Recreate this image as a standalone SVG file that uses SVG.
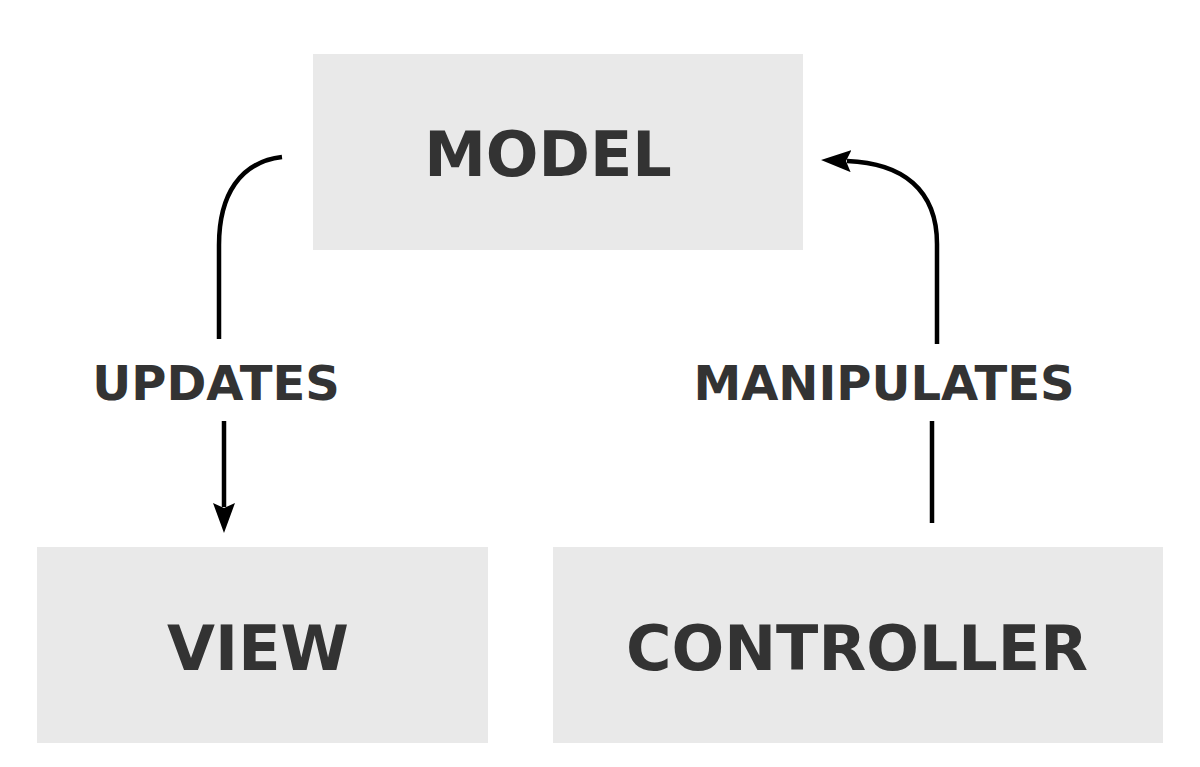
<svg xmlns="http://www.w3.org/2000/svg" width="1200" height="767" viewBox="0 0 1200 767">
<style>
.box{fill:#e9e9e9}
.t{font-family:"DejaVu Sans",sans-serif;font-weight:bold;fill:#333;text-anchor:middle}
.big{font-size:62px}
.lbl{font-size:48px}
.c{fill:none;stroke:#000;stroke-width:4.5}
</style>
<defs>
<marker id="ah" viewBox="0 0 30 22" refX="4" refY="11" markerWidth="30" markerHeight="22" markerUnits="userSpaceOnUse" orient="auto">
<path d="M0,0 L30,11 L0,22 L5,11 Z" fill="#000"/>
</marker>
</defs>
<rect width="1200" height="767" fill="#fff"/>
<g id="model"><rect class="box" x="313" y="54" width="490" height="196"/><text class="t big" x="548" y="176">MODEL</text></g>
<g id="view"><rect class="box" x="37" y="547" width="451" height="196"/><text class="t big" x="258" y="670">VIEW</text></g>
<g id="controller"><rect class="box" x="553" y="547" width="610" height="196"/><text class="t big" x="857" y="670">CONTROLLER</text></g>
<g id="connectors">
<path class="c" d="M282,157 C240,162 219,195 219,245 L219,339"/>
<path class="c" d="M224,421 L224,507" marker-end="url(#ah)"/>
<path class="c" d="M937,344 L937,244 C937,190 903,163 847,161" marker-end="url(#ah)"/>
<path class="c" d="M932,421 L932,523"/>
<text class="t lbl" x="216" y="400">UPDATES</text>
<text class="t lbl" x="884" y="400">MANIPULATES</text>
</g>
</svg>
